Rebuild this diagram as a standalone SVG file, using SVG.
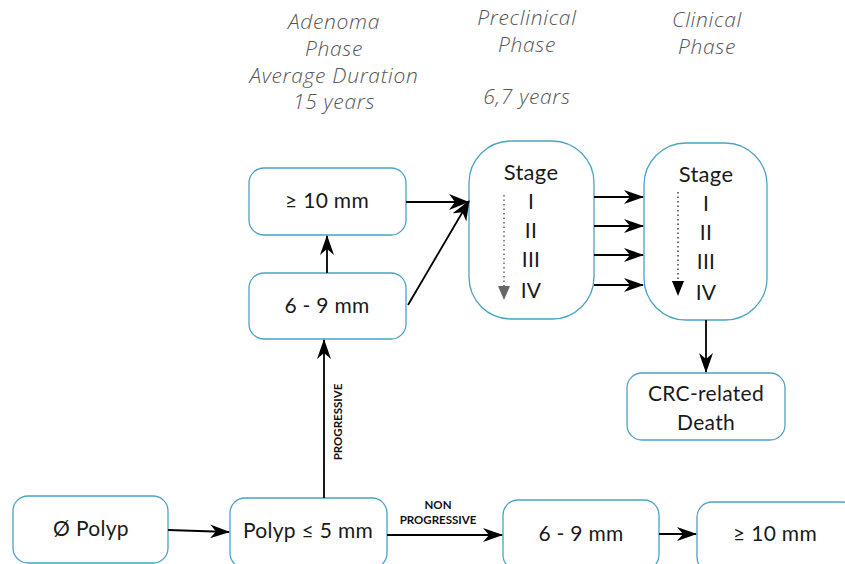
<svg xmlns="http://www.w3.org/2000/svg" width="845" height="564" viewBox="0 0 845 564">
<style>
.box{fill:#fff;stroke:#4aa3c4;stroke-width:1.3}
.t{font-family:"Lato","Open Sans",sans-serif;font-weight:400;font-size:21px;fill:#1a1a1a;text-anchor:middle;letter-spacing:0.3px}
.s{font-size:22px}
.h{font-family:"Open Sans","Lato",sans-serif;font-style:italic;font-weight:300;font-size:21px;fill:#555;text-anchor:middle;letter-spacing:0.7px}
.lab{font-family:"Lato","Open Sans",sans-serif;font-weight:bold;font-size:11.5px;fill:#111;text-anchor:middle}
.c{stroke:#000;stroke-width:1.8;fill:none;marker-end:url(#ah)}
</style>
<defs>
<marker id="ah" viewBox="0 0 20 14" refX="19" refY="7" markerWidth="20" markerHeight="14" markerUnits="userSpaceOnUse" orient="auto">
<path d="M0,0 L20,7 L0,14 L6,7 z" fill="#000"/>
</marker>
<marker id="ahw" viewBox="0 0 20 16" refX="19" refY="8" markerWidth="20" markerHeight="16" markerUnits="userSpaceOnUse" orient="auto">
<path d="M0,0 L20,8 L0,16 L6,8 z" fill="#000"/>
</marker>
</defs>

<g id="headers">
<text class="h" x="334" y="29">Adenoma</text>
<text class="h" x="334" y="56">Phase</text>
<text class="h" x="334" y="83">Average Duration</text>
<text class="h" x="334" y="109">15 years</text>
<text class="h" x="527" y="25">Preclinical</text>
<text class="h" x="527" y="52">Phase</text>
<text class="h" x="527" y="104">6,7 years</text>
<text class="h" x="707" y="27">Clinical</text>
<text class="h" x="707" y="54">Phase</text>
</g>

<g id="n_ge10_top"><rect class="box" x="249" y="168" width="157" height="67" rx="15"/><text class="t" x="327" y="208">≥ 10 mm</text></g>
<g id="n_69_top"><rect class="box" x="249" y="273" width="157" height="66" rx="15"/><text class="t" x="327" y="313">6 - 9 mm</text></g>

<g id="n_preclinical">
<rect class="box" x="469" y="141" width="125" height="178" rx="42"/>
<text class="t s" x="531" y="180">Stage</text>
<text class="t" x="531" y="209">I</text>
<text class="t" x="531" y="238">II</text>
<text class="t" x="531" y="267">III</text>
<text class="t" x="531" y="298">IV</text>
<line x1="504" y1="195" x2="504" y2="288" stroke="#666" stroke-width="1.5" stroke-dasharray="1.5,3"/>
<path d="M498,286 L510,286 L504,300 z" fill="#666"/>
</g>

<g id="n_clinical">
<rect class="box" x="644" y="143" width="123" height="177" rx="42"/>
<text class="t s" x="706" y="182">Stage</text>
<text class="t" x="706" y="211">I</text>
<text class="t" x="706" y="240">II</text>
<text class="t" x="706" y="269">III</text>
<text class="t" x="706" y="300">IV</text>
<line x1="678" y1="192" x2="678" y2="284" stroke="#444" stroke-width="1.5" stroke-dasharray="1.5,3"/>
<path d="M672,281 L684,281 L678,296 z" fill="#000"/>
</g>

<g id="n_death"><rect class="box" x="627" y="373" width="158" height="67" rx="15"/><text class="t" x="706" y="401">CRC-related</text><text class="t" x="706" y="430">Death</text></g>

<g id="n_nopolyp"><rect class="box" x="13" y="496" width="155" height="67" rx="15"/><text class="t" x="91" y="536">Ø Polyp</text></g>
<g id="n_polyp5"><rect class="box" x="230" y="498" width="157" height="70" rx="15"/><text class="t" x="308" y="538">Polyp ≤ 5 mm</text></g>
<g id="n_69_bot"><rect class="box" x="503" y="500" width="156" height="70" rx="15"/><text class="t" x="581" y="541">6 - 9 mm</text></g>
<g id="n_ge10_bot"><rect class="box" x="697" y="502" width="160" height="70" rx="15"/><text class="t" x="775" y="541">≥ 10 mm</text></g>

<g id="connectors">
<line class="c" x1="327" y1="273" x2="327" y2="236"/>
<line class="c" x1="406" y1="202" x2="468" y2="202" style="marker-end:url(#ahw)"/>
<line class="c" x1="408" y1="305" x2="469" y2="201" style="marker-end:url(#ahw)"/>
<line class="c" x1="594" y1="197" x2="643" y2="197"/>
<line class="c" x1="594" y1="226" x2="643" y2="226"/>
<line class="c" x1="594" y1="255" x2="643" y2="255"/>
<line class="c" x1="594" y1="285" x2="643" y2="285"/>
<line class="c" x1="706" y1="320" x2="706" y2="372"/>
<line class="c" x1="324" y1="498" x2="324" y2="340"/>
<line class="c" x1="168" y1="530" x2="229" y2="532"/>
<line class="c" x1="387" y1="535" x2="502" y2="535"/>
<line class="c" x1="659" y1="534" x2="696" y2="534"/>
<text class="lab" transform="translate(342,422) rotate(-90)">PROGRESSIVE</text>
<text class="lab" x="438" y="509">NON</text>
<text class="lab" x="438" y="524">PROGRESSIVE</text>
</g>
</svg>
